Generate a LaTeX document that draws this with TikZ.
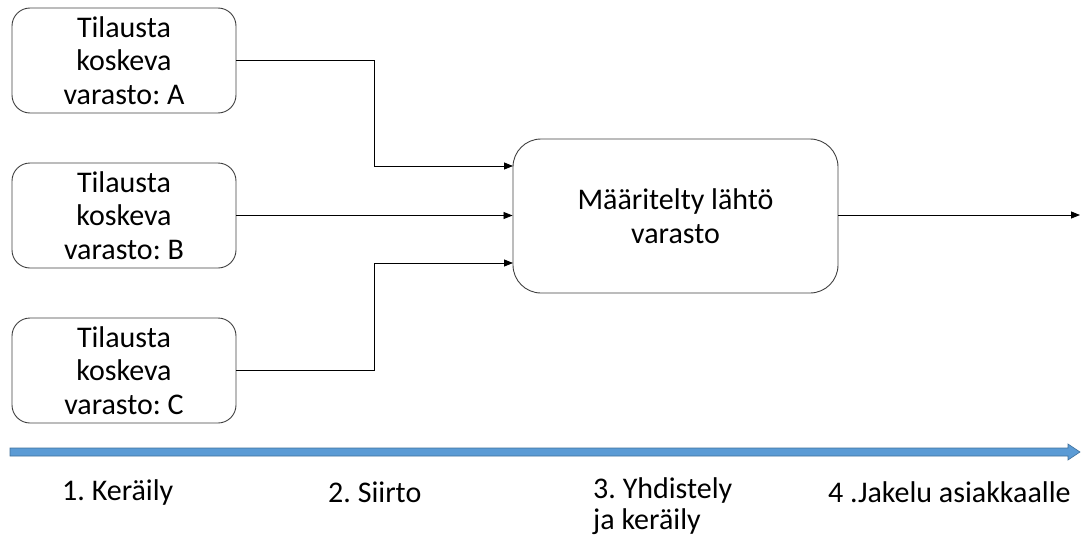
\documentclass[tikz,border=0pt]{standalone}
\usepackage{fontspec}
\setmainfont{Carlito}
\usetikzlibrary{arrows.meta}
\definecolor{arrblue}{HTML}{5B9BD5}
\definecolor{arredge}{HTML}{41719C}
\frenchspacing
\begin{document}
\begin{tikzpicture}[x=1pt,y=-1pt,
  box/.style={draw=black!75,line width=0.9pt,rounded corners=18pt,align=center,inner sep=0pt,
    font=\fontsize{30}{33.5}\selectfont},
  conn/.style={draw=black,line width=0.8pt,-{Triangle[length=9pt,width=7pt]}},
  lbl/.style={font=\fontsize{30}{31}\selectfont,anchor=west,align=left,inner sep=0pt}]
\useasboundingbox (0,0) rectangle (1082,538);
\node[box,minimum width=224pt,minimum height=105pt] (A) at (124,60.5) {Tilausta\\koskeva\\varasto: A};
\node[box,minimum width=224pt,minimum height=105pt] (B) at (124,215.5) {Tilausta\\koskeva\\varasto: B};
\node[box,minimum width=224pt,minimum height=105pt] (C) at (124,370.5) {Tilausta\\koskeva\\varasto: C};
\node[box,rounded corners=28pt,minimum width=325pt,minimum height=154pt] (M) at (675.5,216) {Määritelty lähtö\\varasto};
\coordinate (out) at (1080,215);
\coordinate (ma) at (513,166);
\coordinate (mc) at (513,263);
\draw[conn] (A.east) -- (374,60.5) |- (ma);
\draw[conn] (B.east) -- (B.east -| M.west);
\draw[conn] (C.east) -- (374,370.5) |- (mc);
\draw[conn] (M.east |- out) -- (out);
\fill[arrblue,draw=arredge,line width=0.6pt] (10,448) -- (1068,448) -- (1068,444) -- (1080,452) -- (1068,460) -- (1068,456) -- (10,456) -- cycle;
\node[lbl] (l1) at (62,492) {1. Keräily};
\node[lbl] (l2) at (328,492) {2. Siirto};
\node[lbl] (l3) at (593,506) {3. Yhdistely\\ja keräily};
\node[lbl] (l4) at (828,492) {4 .Jakelu asiakkaalle};
\end{tikzpicture}
\end{document}
